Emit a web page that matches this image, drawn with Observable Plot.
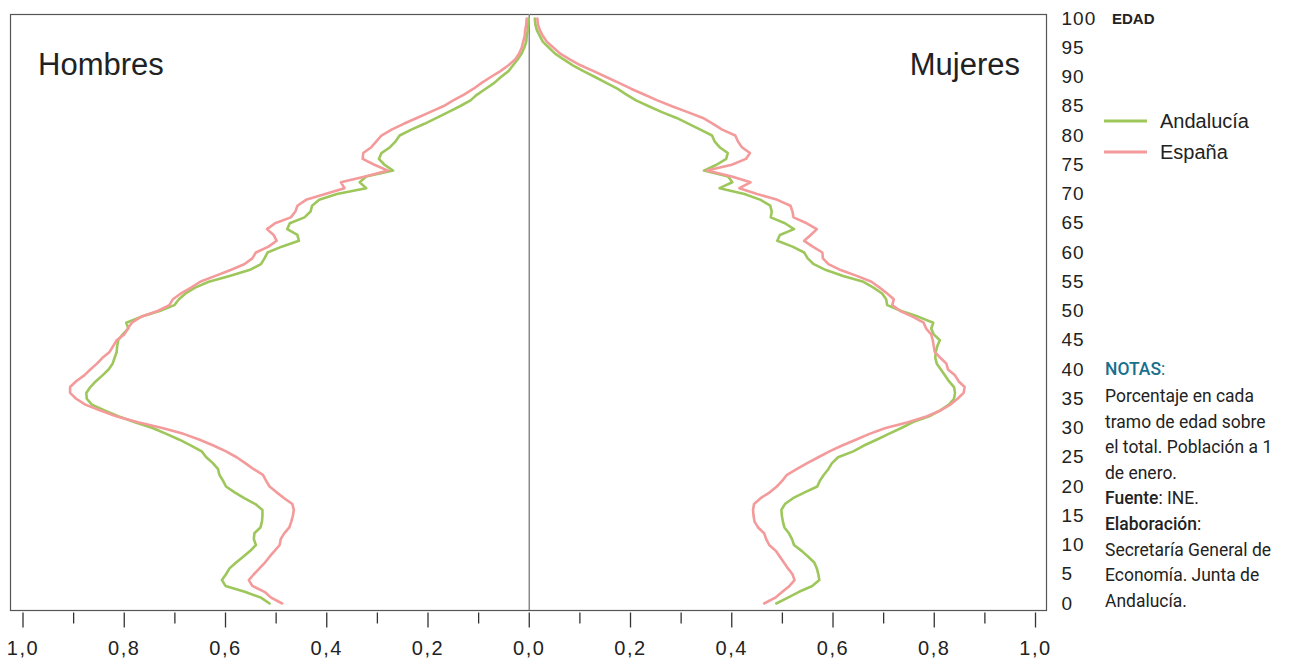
<!DOCTYPE html>
<html><head><meta charset="utf-8">
<script src="https://cdn.jsdelivr.net/npm/d3@7"></script>
<script src="https://cdn.jsdelivr.net/npm/@observablehq/plot@0.6"></script>
<style>body{margin:0;background:#fff;} #chart{position:relative;width:1289px;height:658px;}</style>
</head><body><div id="chart"></div>
<script>
const ages = d3.range(0, 101);
const hombresAndalucia = [0.513,0.530,0.562,0.600,0.607,0.599,0.592,0.579,0.565,0.551,0.540,0.544,0.543,0.531,0.528,0.527,0.527,0.541,0.563,0.582,0.599,0.605,0.612,0.615,0.625,0.638,0.647,0.668,0.691,0.717,0.744,0.779,0.812,0.839,0.864,0.874,0.875,0.867,0.856,0.843,0.831,0.823,0.819,0.815,0.814,0.812,0.803,0.792,0.796,0.767,0.730,0.701,0.692,0.679,0.660,0.633,0.592,0.553,0.530,0.523,0.517,0.489,0.455,0.458,0.478,0.473,0.444,0.432,0.429,0.415,0.380,0.322,0.335,0.322,0.269,0.286,0.297,0.292,0.275,0.264,0.256,0.233,0.207,0.183,0.160,0.137,0.116,0.103,0.086,0.069,0.056,0.041,0.032,0.023,0.015,0.010,0.006,0.005,0.003,0.002,0.001];
const hombresEspana = [0.488,0.510,0.523,0.547,0.554,0.544,0.533,0.522,0.513,0.503,0.493,0.491,0.484,0.474,0.470,0.467,0.465,0.468,0.484,0.499,0.513,0.520,0.526,0.545,0.561,0.578,0.599,0.624,0.651,0.683,0.725,0.773,0.816,0.847,0.877,0.895,0.907,0.907,0.895,0.879,0.867,0.854,0.843,0.829,0.822,0.815,0.800,0.793,0.785,0.767,0.734,0.711,0.704,0.688,0.668,0.650,0.620,0.590,0.563,0.547,0.540,0.515,0.499,0.505,0.518,0.502,0.471,0.462,0.458,0.441,0.403,0.365,0.372,0.324,0.279,0.306,0.329,0.328,0.312,0.302,0.292,0.272,0.248,0.222,0.196,0.170,0.150,0.129,0.110,0.094,0.076,0.057,0.041,0.028,0.020,0.015,0.012,0.009,0.008,0.006,0.005];
const mujeresAndalucia = [0.488,0.511,0.533,0.559,0.573,0.571,0.568,0.563,0.551,0.538,0.523,0.519,0.513,0.504,0.501,0.499,0.498,0.505,0.521,0.544,0.569,0.574,0.582,0.591,0.598,0.610,0.640,0.661,0.686,0.710,0.735,0.758,0.790,0.812,0.829,0.839,0.841,0.839,0.829,0.821,0.813,0.805,0.802,0.803,0.806,0.811,0.799,0.794,0.798,0.769,0.735,0.707,0.705,0.697,0.680,0.660,0.620,0.586,0.562,0.550,0.543,0.520,0.490,0.495,0.523,0.505,0.477,0.479,0.476,0.457,0.425,0.376,0.401,0.393,0.345,0.370,0.389,0.392,0.376,0.366,0.361,0.338,0.315,0.291,0.262,0.236,0.211,0.192,0.174,0.152,0.130,0.107,0.086,0.068,0.051,0.039,0.027,0.021,0.015,0.012,0.011];
const mujeresEspana = [0.464,0.486,0.500,0.514,0.524,0.520,0.511,0.503,0.495,0.487,0.474,0.468,0.464,0.452,0.445,0.443,0.442,0.444,0.457,0.475,0.489,0.500,0.509,0.529,0.549,0.571,0.593,0.618,0.645,0.672,0.704,0.748,0.786,0.812,0.832,0.846,0.858,0.860,0.848,0.841,0.827,0.824,0.812,0.801,0.799,0.797,0.794,0.784,0.779,0.758,0.733,0.717,0.720,0.707,0.692,0.676,0.647,0.615,0.591,0.580,0.579,0.560,0.543,0.556,0.568,0.548,0.522,0.520,0.516,0.490,0.450,0.415,0.437,0.400,0.351,0.400,0.428,0.436,0.420,0.412,0.407,0.381,0.363,0.343,0.313,0.282,0.253,0.227,0.201,0.177,0.152,0.127,0.101,0.080,0.061,0.048,0.035,0.027,0.021,0.017,0.016];

const series = ["Andalucía", "España"];
const colores = ["#9dc75b", "#f49a9b"];
const xTicksMajor = [-1, -0.8, -0.6, -0.4, -0.2, 0, 0.2, 0.4, 0.6, 0.8, 1];
const xTicksMinor = [-0.9, -0.7, -0.5, -0.3, -0.1, 0.1, 0.3, 0.5, 0.7, 0.9];
const yTicks = d3.range(0, 101, 5);
const sexos = ["Hombres", "Mujeres"];
const notas = ["Porcentaje en cada", "tramo de edad sobre", "el total. Población a 1", "de enero."];

const data = [];
function addSerie(arr, serie, sexo, sign) {
  ages.forEach((a, i) => data.push({edad: a, valor: sign * arr[i], serie, grupo: serie + "-" + sexo}));
}
addSerie(hombresAndalucia, "Andalucía", "H", -1);
addSerie(hombresEspana, "España", "H", -1);
addSerie(mujeresAndalucia, "Andalucía", "M", 1);
addSerie(mujeresEspana, "España", "M", 1);

const fmt = d => Math.abs(d).toFixed(1).replace(".", ",");
const FONT = "'Liberation Sans', Arial, sans-serif";

const plot = Plot.plot({
  width: 1289, height: 658,
  marginLeft: 10, marginRight: 243, marginTop: 14, marginBottom: 45.5,
  x: {domain: [-1.0247, 1.0217], label: null},
  y: {domain: [-1.624, 100.684], label: null},
  color: {domain: series, range: colores},
  style: {fontFamily: FONT, background: "#fff", color: "#222"},
  marks: [
    Plot.frame({stroke: "#555", strokeWidth: 1.2, insetBottom: 2.5}),
    Plot.ruleX([0], {stroke: "#8a8a8a", strokeWidth: 1.5, insetBottom: 2.5}),
    Plot.line(data, {x: "valor", y: "edad", z: "grupo", stroke: "serie", strokeWidth: 2.6, curve: "linear"}),
    Plot.axisX({ticks: xTicksMajor, tickSize: 15, tickFormat: () => "", label: null, stroke: "#333", strokeWidth: 1.3}),
    Plot.axisX({ticks: xTicksMinor, tickSize: 11, tickFormat: () => "", label: null, stroke: "#333", strokeWidth: 1.3}),
    Plot.axisX({ticks: xTicksMajor, tickSize: 0, tickPadding: 27.5, tickFormat: fmt, label: null, fontSize: 20, fill: "#222"}),
    Plot.axisY({anchor: "right", ticks: yTicks, tickSize: 0, tickPadding: 15, label: null, fontSize: 19, fill: "#222"})
  ]
});
document.getElementById("chart").appendChild(plot);

const svg = d3.select(plot);
svg.selectAll("g[aria-label='x-axis tick label'] text").style("letter-spacing", "1.5px");
svg.selectAll("g[aria-label='y-axis tick label'] text").style("letter-spacing", "1px");

const ann = svg.append("g").attr("font-family", FONT).attr("fill", "#222").attr("text-anchor", "start");
ann.append("text").attr("x", 38).attr("y", 75).attr("font-size", 31).text(sexos[0]);
ann.append("text").attr("x", 1020).attr("y", 75).attr("text-anchor", "end").attr("font-size", 31).text(sexos[1]);
ann.append("text").attr("x", 1112).attr("y", 24).attr("font-size", 15).attr("font-weight", "bold").text("EDAD");

// legend
const leg = ann.append("g");
series.forEach((s, i) => {
  const yy = 121 + i * 31;
  leg.append("line").attr("x1", 1104).attr("x2", 1147).attr("y1", yy).attr("y2", yy)
    .attr("stroke", colores[i]).attr("stroke-width", 3);
  leg.append("text").attr("x", 1160).attr("y", yy + 7).attr("font-size", 20).text(s);
});

// notes
const nt = ann.append("g").attr("transform", "translate(1105,0) scale(0.92,1)")
  .attr("font-family", "Roboto, 'Liberation Sans', sans-serif").attr("font-size", 19);
nt.append("text").attr("x", 0).attr("y", 375).attr("fill", "#16708e").attr("font-weight", 500)
  .text("NOTAS").append("tspan").attr("font-weight", 400).text(":");
const lh = 25.6;
notas.forEach((t, i) => nt.append("text").attr("x", 0).attr("y", 402 + i * lh).text(t));
const f = nt.append("text").attr("x", 0).attr("y", 402 + 4 * lh);
f.append("tspan").attr("font-weight", 500).text("Fuente");
f.append("tspan").text(": INE.");
const e = nt.append("text").attr("x", 0).attr("y", 402 + 5 * lh);
e.append("tspan").attr("font-weight", 500).text("Elaboración");
e.append("tspan").text(":");
["Secretaría General de", "Economía. Junta de", "Andalucía."].forEach((t, i) =>
  nt.append("text").attr("x", 0).attr("y", 402 + (6 + i) * lh).text(t));
</script>
</body></html>
